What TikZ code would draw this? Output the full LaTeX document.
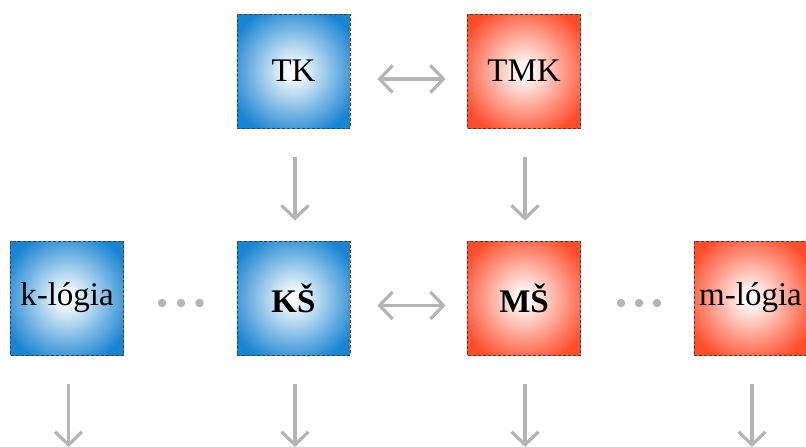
\documentclass[tikz,border=0pt]{standalone}
\usepackage{fontspec}
\setmainfont{Liberation Serif}
\usetikzlibrary{arrows.meta}
\definecolor{kblue}{RGB}{24,132,210}
\definecolor{mred}{RGB}{255,78,44}
\definecolor{arrgray}{RGB}{180,180,180}
\pgfdeclareradialshading{kshade}{\pgfpoint{0bp}{0bp}}{color(0bp)=(white); color(2bp)=(white); color(30bp)=(kblue); color(50bp)=(kblue)}
\pgfdeclareradialshading{mshade}{\pgfpoint{0bp}{0bp}}{color(0bp)=(white); color(2bp)=(white); color(30bp)=(mred); color(50bp)=(mred)}
\tikzset{
  sq/.style={minimum width=113pt, minimum height=114pt, inner sep=0pt,
    draw=black!75, line width=0.7pt, dash pattern=on 3pt off 2pt,
    font=\fontsize{33}{38}\selectfont},
  kbox/.style={sq, shading=kshade},
  mbox/.style={sq, shading=mshade},
  arr/.style={draw=arrgray, line width=3.2pt, -{Straight Barb[length=13pt,width=27pt]}},
  darr/.style={draw=arrgray, line width=3.2pt, {Straight Barb[length=13pt,width=27pt]}-{Straight Barb[length=13pt,width=27pt]}},
  gdot/.style={circle, fill=arrgray, minimum size=8.5pt, inner sep=0pt}
}
\begin{document}
\begin{tikzpicture}[x=1pt,y=-1pt]
\useasboundingbox (0,0) rectangle (806,447);
\node[kbox] (TK) at (293.5,71) {TK};
\node[mbox] (TMK) at (524,71) {TMK};
\node[kbox] (kl) at (67,298) {k-lógia};
\node[kbox] (KS) at (293.5,298) {\bfseries KŠ};
\node[mbox] (MS) at (524,298) {\bfseries MŠ};
\node[mbox] (ml) at (750.5,298) {m-lógia};
% dots
\node[gdot] (d1) at (162,303) {};
\node[gdot] (d2) at (181,303) {};
\node[gdot] (d3) at (199.5,303) {};
\node[gdot] (d4) at (621,303) {};
\node[gdot] (d5) at (639,303) {};
\node[gdot] (d6) at (657,303) {};
% horizontal double arrows
\draw[darr] ([xshift=27pt,yshift=-8pt]TK.east) -- ([xshift=-21.5pt,yshift=-8pt]TMK.west);
\draw[darr] ([xshift=27pt,yshift=-7.5pt]KS.east) -- ([xshift=-21.5pt,yshift=-7.5pt]MS.west);
% vertical arrows
\draw[arr] ([xshift=1.5pt,yshift=-29pt]TK.south) -- ([xshift=1.5pt,yshift=20pt]KS.north);
\draw[arr] ([xshift=1pt,yshift=-29pt]TMK.south) -- ([xshift=1pt,yshift=20pt]MS.north);
% outgoing arrows
\coordinate (o1) at (68.5,447);
\coordinate (o2) at (295,447);
\coordinate (o3) at (525,447);
\coordinate (o4) at (752,447);
\draw[arr] ([xshift=1.5pt,yshift=-29pt]kl.south) -- (o1);
\draw[arr] ([xshift=1.5pt,yshift=-29pt]KS.south) -- (o2);
\draw[arr] ([xshift=1pt,yshift=-29pt]MS.south) -- (o3);
\draw[arr] ([xshift=1.5pt,yshift=-29pt]ml.south) -- (o4);
\end{tikzpicture}
\end{document}
